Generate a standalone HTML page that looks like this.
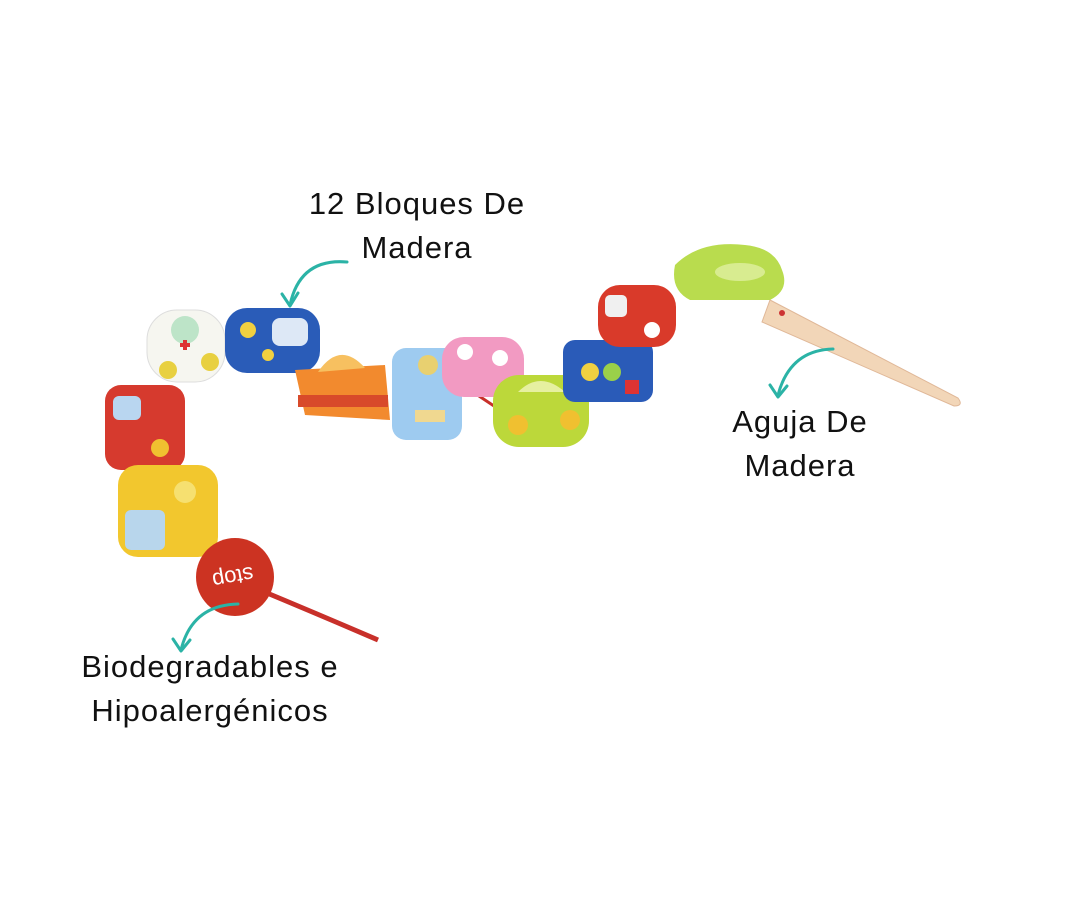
<!DOCTYPE html>
<html><head><meta charset="utf-8"><style>
html,body{margin:0;padding:0;background:#fff;}
body{width:1080px;height:900px;position:relative;overflow:hidden;font-family:"Liberation Sans",sans-serif;}
.t{position:absolute;font-size:31px;color:#111;text-align:center;line-height:44px;letter-spacing:1px;}
</style></head><body>
<svg width="1080" height="900" style="position:absolute;left:0;top:0">
<path d="M770 300 L958 398 Q964 406 954 406 L762 322 Z" fill="#f2d6b8" stroke="#e0b898" stroke-width="1"/>
<circle cx="782" cy="313" r="3" fill="#c33"/>
<path d="M255 588 Q320 615 378 640" stroke="#c8302a" stroke-width="5" fill="none"/>
<path d="M395 375 L420 400 M455 380 L500 410" stroke="#c8302a" stroke-width="3"/>
<rect x="147" y="310" width="78" height="72" rx="30" fill="#f6f6f0" stroke="#ddd"/>
<circle cx="185" cy="330" r="14" fill="#bde4c8"/><circle cx="168" cy="370" r="9" fill="#e8d040"/><circle cx="210" cy="362" r="9" fill="#e8d040"/>
<path d="M180 345 h10 M185 340 v10" stroke="#d33" stroke-width="4"/>
<rect x="225" y="308" width="95" height="65" rx="22" fill="#2a5cb8"/>
<rect x="272" y="318" width="36" height="28" rx="8" fill="#dde8f6"/><circle cx="248" cy="330" r="8" fill="#f0d040"/><circle cx="268" cy="355" r="6" fill="#f0d040"/>
<rect x="105" y="385" width="80" height="85" rx="16" fill="#d63a2e"/>
<rect x="113" y="396" width="28" height="24" rx="6" fill="#b9d6f0"/><circle cx="160" cy="448" r="9" fill="#f0c030"/>
<rect x="118" y="465" width="100" height="92" rx="20" fill="#f2c72e"/>
<rect x="125" y="510" width="40" height="40" rx="6" fill="#b8d6ec"/><circle cx="185" cy="492" r="11" fill="#f6e070"/>
<circle cx="235" cy="577" r="39" fill="#cc3322"/>
<text x="233" y="584" font-size="22" fill="#fff" text-anchor="middle" font-family="Liberation Sans" transform="rotate(170 233 577)">stop</text>
<path d="M295 370 L385 365 L390 420 L305 415 Z" fill="#f28a2e"/>
<path d="M318 372 Q340 340 365 368 Z" fill="#f7c060"/>
<rect x="298" y="395" width="90" height="12" fill="#d84a2a"/>
<rect x="392" y="348" width="70" height="92" rx="14" fill="#9ecbf0"/>
<circle cx="428" cy="365" r="10" fill="#e8d070"/><rect x="415" y="410" width="30" height="12" fill="#f0d890"/>
<rect x="442" y="337" width="82" height="60" rx="22" fill="#f29ac2"/>
<circle cx="465" cy="352" r="8" fill="#fff"/><circle cx="500" cy="358" r="8" fill="#fff"/>
<rect x="493" y="375" width="96" height="72" rx="26" fill="#bcd83a"/>
<path d="M518 392 Q540 370 565 392 Z" fill="#e6f0a0"/><circle cx="518" cy="425" r="10" fill="#f0c030"/><circle cx="570" cy="420" r="10" fill="#f0c030"/>
<rect x="563" y="340" width="90" height="62" rx="12" fill="#2a5bb8"/>
<circle cx="590" cy="372" r="9" fill="#f0d040"/><circle cx="612" cy="372" r="9" fill="#9ad04a"/><rect x="625" y="380" width="14" height="14" fill="#d33"/>
<rect x="598" y="285" width="78" height="62" rx="22" fill="#d93a2a"/>
<rect x="605" y="295" width="22" height="22" rx="5" fill="#f0f0f0"/><circle cx="652" cy="330" r="8" fill="#fff"/>
<path d="M675 265 Q700 240 745 245 Q775 248 782 270 Q790 290 770 300 L690 300 Q670 290 675 265 Z" fill="#b9dc4e"/>
<ellipse cx="740" cy="272" rx="25" ry="9" fill="#d8ec90"/>
<g stroke="#2bb3a6" stroke-width="3" fill="none" stroke-linecap="round" stroke-linejoin="round">
<path d="M347 262 Q300 258 290 305"/><path d="M282 294 L290 306 L298 293"/>
<path d="M833 349 Q790 350 778 395"/><path d="M770 385 L778 397 L787 386"/>
<path d="M238 604 Q192 605 181 650"/><path d="M173 639 L181 651 L190 640"/>
</g>
</svg>
<div class="t" style="left:287px;top:182px;width:260px">12 Bloques De<br>Madera</div>
<div class="t" style="left:690px;top:400px;width:220px">Aguja De<br>Madera</div>
<div class="t" style="left:40px;top:645px;width:340px">Biodegradables e<br>Hipoalergénicos</div>
</body></html>
